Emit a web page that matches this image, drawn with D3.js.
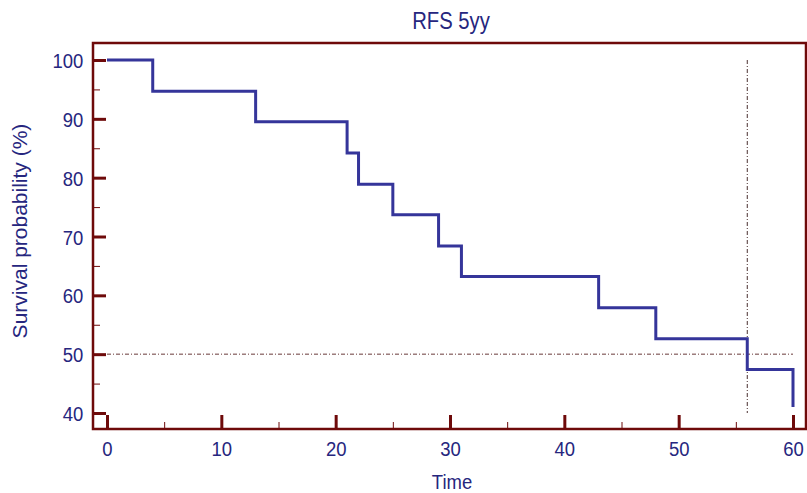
<!DOCTYPE html>
<html>
<head>
<meta charset="utf-8">
<script src="https://cdn.jsdelivr.net/npm/d3@7"></script>
<style>
  body { margin: 0; background: #fff; }
  text { font-family: "Liberation Sans", Arial, sans-serif; fill: #26267e; }
</style>
</head>
<body>
<div id="chart"></div>
<script>
// Kaplan-Meier step curve, RFS 5 years
const times    = [0, 4, 13, 21, 22, 25, 29, 31, 43, 48, 56, 60];
const survival = [100, 94.7, 89.5, 84.2, 78.9, 73.7, 68.4, 63.2, 57.9, 52.6, 47.4, 41];
const xTicks = [0, 10, 20, 30, 40, 50, 60];
const xMinor = [5, 15, 25, 35, 45, 55];
const yTicks = [40, 50, 60, 70, 80, 90, 100];
const yMinor = [45, 55, 65, 75, 85, 95];
const medianSurvival = 50;
const medianTime = 56;

const width = 807, height = 493;
const frame = {left: 93, top: 43, right: 806, bottom: 429};
const maroon = '#6e0a0a';
const squeeze = 'scale(0.88,1)';

const svg = d3.select('#chart').append('svg')
  .attr('width', width)
  .attr('height', height);

const x = d3.scaleLinear().domain([0, 60]).range([107, 793]);
const y = d3.scaleLinear().domain([40, 100]).range([413, 60]);

// median reference lines
svg.append('line')
  .attr('x1', x(0)).attr('x2', x(60))
  .attr('y1', y(medianSurvival)).attr('y2', y(medianSurvival))
  .attr('stroke', '#6a3a3a').attr('stroke-width', 1)
  .attr('stroke-dasharray', '4,2,1,2');

svg.append('line')
  .attr('x1', x(medianTime)).attr('x2', x(medianTime))
  .attr('y1', y(100)).attr('y2', y(40))
  .attr('stroke', '#4a3030').attr('stroke-width', 1)
  .attr('stroke-dasharray', '4,2,1,2');

// survival curve
const data = times.map((t, i) => [t, survival[i]]);
const line = d3.line()
  .x(d => x(d[0]))
  .y(d => y(d[1]))
  .curve(d3.curveStepAfter);

svg.append('path')
  .datum(data)
  .attr('fill', 'none')
  .attr('stroke', '#35359a')
  .attr('stroke-width', 3)
  .attr('d', line);

// axes
function styleAxis(g, w) {
  g.select('.domain').remove();
  g.selectAll('.tick line').attr('stroke', maroon).attr('stroke-width', w);
}

svg.append('g')
  .attr('transform', `translate(0,${frame.bottom})`)
  .call(d3.axisBottom(x).tickValues(xMinor).tickSize(-7).tickFormat(''))
  .call(g => styleAxis(g, 1));

svg.append('g')
  .attr('transform', `translate(0,${frame.bottom})`)
  .call(d3.axisBottom(x).tickValues(xTicks).tickSize(-14).tickPadding(27))
  .call(g => styleAxis(g, 3))
  .call(g => g.selectAll('.tick text')
    .attr('y', 27).attr('dy', 0)
    .attr('font-size', 21)
    .attr('fill', '#26267e')
    .attr('transform', squeeze));

svg.append('g')
  .attr('transform', `translate(${frame.left},0)`)
  .call(d3.axisLeft(y).tickValues(yMinor).tickSize(-7).tickFormat(''))
  .call(g => styleAxis(g, 1));

svg.append('g')
  .attr('transform', `translate(${frame.left},0)`)
  .call(d3.axisLeft(y).tickValues(yTicks).tickSize(-13))
  .call(g => styleAxis(g, 3))
  .call(g => g.selectAll('.tick text')
    .attr('x', -11).attr('dy', '0.36em')
    .attr('font-size', 21)
    .attr('fill', '#26267e')
    .attr('transform', squeeze));

// frame
svg.append('rect')
  .attr('x', frame.left).attr('y', frame.top)
  .attr('width', frame.right - frame.left)
  .attr('height', frame.bottom - frame.top)
  .attr('fill', 'none')
  .attr('stroke', maroon)
  .attr('stroke-width', 2.5);

// titles
svg.append('text')
  .attr('transform', `translate(451,29) ${squeeze}`)
  .attr('text-anchor', 'middle')
  .attr('font-size', 23)
  .text('RFS 5yy');

svg.append('text')
  .attr('transform', `translate(452,489) ${squeeze}`)
  .attr('text-anchor', 'middle')
  .attr('font-size', 21)
  .text('Time');

svg.append('text')
  .attr('transform', 'translate(27,231) rotate(-90)')
  .attr('text-anchor', 'middle')
  .attr('font-size', 21)
  .text('Survival probability (%)');
</script>
</body>
</html>
